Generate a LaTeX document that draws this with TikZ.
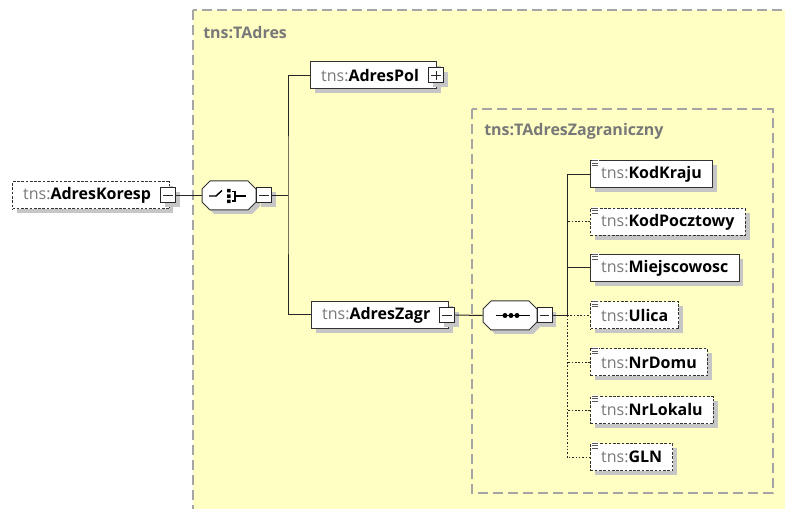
\documentclass[tikz,border=0pt]{standalone}
\usepackage{fontspec}
\setmainfont{Open Sans}
\usetikzlibrary{shadows}
\definecolor{bgyellow}{RGB}{255,255,196}
\definecolor{boxgray}{RGB}{165,165,165}
\definecolor{nsgray}{RGB}{120,120,120}
\definecolor{shadowgray}{RGB}{198,198,198}
\newcommand\tnsname[1]{{\color{nsgray}tns:}\textbf{#1}}
\newcommand\btnpad{\rule{5.5pt}{0pt}}
\newcommand\eicon[1]{%
  \fill[white] ([shift={(1.5,-1)}]#1.north west) rectangle ([shift={(8.5,6)}]#1.north west);
  \draw[line width=0.6pt, black!65] ([shift={(2,0)}]#1.north west) -- ++(6,0)
    ([shift={(2,2.5)}]#1.north west) -- ++(6,0)
    ([shift={(2,5)}]#1.north west) -- ++(6,0);}
\newcommand\octag[2]{%
  \fill[shadowgray] (#1-23,#2-10.5) -- (#1+23,#2-10.5) -- (#1+31,#2-2.5) -- (#1+31,#2+10.5) -- (#1+23,#2+18.5) -- (#1-15,#2+18.5) -- (#1-23,#2+10.5) -- cycle;
  \filldraw[fill=white, draw=black!80, line width=0.75pt] (#1-27,#2-6.5) -- (#1-19,#2-14.5) -- (#1+19,#2-14.5) -- (#1+27,#2-6.5) -- (#1+27,#2+6.5) -- (#1+19,#2+14.5) -- (#1-19,#2+14.5) -- (#1-27,#2+6.5) -- cycle;}
\begin{document}
\begin{tikzpicture}[x=0.75pt,y=-0.75pt,
  shd/.style={drop shadow={shadow xshift=3.3pt, shadow yshift=-3.3pt, fill=shadowgray, opacity=1}},
  elem/.style={draw=black!80, fill=white, line width=0.75pt, minimum height=20.25pt,
    inner xsep=8pt, inner ysep=0pt, anchor=west, shd, font=\fontsize{12}{14}\selectfont},
  optelem/.style={elem, dash pattern=on 2pt off 1.2pt},
  btn/.style={draw=black!85, fill=white, line width=0.75pt, minimum size=11.25pt, inner sep=0pt, shd},
  minusbtn/.style={btn, path picture={\draw[line width=0.6pt] ([xshift=2pt]path picture bounding box.west) -- ([xshift=-2pt]path picture bounding box.east);}},
  plusbtn/.style={btn, path picture={\draw[line width=0.6pt] ([xshift=2pt]path picture bounding box.west) -- ([xshift=-2pt]path picture bounding box.east) ([yshift=-2pt]path picture bounding box.north) -- ([yshift=2pt]path picture bounding box.south);}},
  compo/.style={minimum width=40.5pt, minimum height=21.75pt, inner sep=0pt},
  conn/.style={draw=black!85, line width=0.75pt},
  dconn/.style={conn, dash pattern=on 1.2pt off 1.3pt},
  icon/.style={line width=1.1pt},
  cbox/.style={draw=boxgray, line width=1.1pt, dash pattern=on 7.5pt off 3.75pt},
  lbl/.style={anchor=west, text=nsgray, font=\fontsize{12}{14}\selectfont\bfseries, inner sep=0pt}
]
\useasboundingbox (0,0) rectangle (785,509);
\begin{scope}
\clip (0,0) rectangle (785,509);
\filldraw[fill=bgyellow, cbox] (193,10) rectangle (820,540);
\end{scope}
\draw[cbox] (472,109) rectangle (773,493);
\node[lbl] (tadres) at (203,33) {tns:TAdres};
\node[lbl] (tadreszag) at (484,131) {tns:TAdresZagraniczny};

% left element
\node[optelem] (koresp) at (12,195.5) {\tnsname{AdresKoresp}\btnpad};
\node[minusbtn] (koreb) at ([xshift=-1.1pt]koresp.east) {};

% choice compositor
\octag{229}{195.5}
\node[compo] (choice) at (229,195.5) {};
\draw[icon] (209,196) -- (216,196) -- (222,190.5);
\fill (227,189) rectangle (230.5,192.5) (227,194.3) rectangle (230.5,197.8) (227,199.6) rectangle (230.5,203.1);
\draw[icon] (232,191.5) -- (235,191.5) -- (235,200.8) -- (232,200.8) (235,196) -- (246,196);
\node[minusbtn] (choiceb) at (264,195.5) {};
\coordinate (j1) at (288,195.5);

\node[elem] (pol) at (310,75.5) {\tnsname{AdresPol}\btnpad};
\node[plusbtn] (polb) at ([xshift=-1.1pt]pol.east) {};
\node[elem] (zagr) at (311,315) {\tnsname{AdresZagr}\btnpad};
\node[minusbtn] (zagrb) at ([xshift=-1.1pt]zagr.east) {};

% sequence compositor
\octag{510}{315.5}
\node[compo] (seq) at (510,315.5) {};
\draw[icon] (496,315.5) -- (530,315.5);
\fill (505,315.5) circle (2.5) (511,315.5) circle (2.5) (517,315.5) circle (2.5);
\node[minusbtn] (seqb) at (544.5,315.5) {};
\coordinate (j2) at (567,315.5);

% children
\node[elem] (kodkraju) at (590,174.5) {\tnsname{KodKraju}};
\node[optelem] (kodpoczt) at (590,222) {\tnsname{KodPocztowy}};
\node[elem] (miejsc) at (590,268) {\tnsname{Miejscowosc}};
\node[optelem] (ulica) at (590,315.5) {\tnsname{Ulica}};
\node[optelem] (nrdomu) at (590,362.5) {\tnsname{NrDomu}};
\node[optelem] (nrlokalu) at (590,410) {\tnsname{NrLokalu}};
\node[optelem] (gln) at (590,457) {\tnsname{GLN}};
\foreach \n in {kodkraju,kodpoczt,miejsc,ulica,nrdomu,nrlokalu,gln} {\eicon{\n}}

% connectors
\draw[conn] (koreb.east) -- (choice.west);
\draw[conn] (choiceb.east) -- (j1);
\draw[conn] (pol.west) -| (j1) |- (zagr.west);
\draw[conn] (zagrb.east) -- (seq.west);
\draw[conn] (seqb.east) -- (j2);
\draw[conn] (kodkraju.west) -| (j2);
\draw[conn] (miejsc.west) -- (miejsc.west -| j2);
\draw[dconn] (kodpoczt.west) -- (kodpoczt.west -| j2);
\draw[dconn] (j2) -- (ulica.west);
\draw[dconn] (nrdomu.west) -- (nrdomu.west -| j2);
\draw[dconn] (nrlokalu.west) -- (nrlokalu.west -| j2);
\draw[dconn] (j2) |- (gln.west);
\end{tikzpicture}
\end{document}
